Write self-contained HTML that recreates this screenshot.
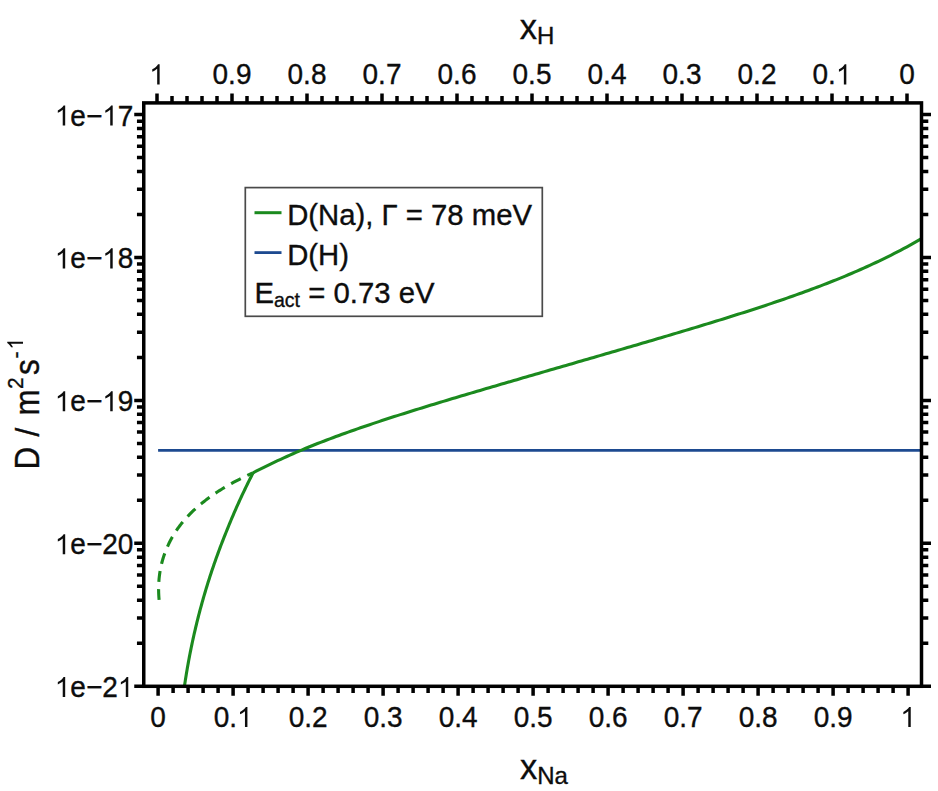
<!DOCTYPE html>
<html><head><meta charset="utf-8"><style>
html,body{margin:0;padding:0;background:#fff;}
body{width:938px;height:791px;overflow:hidden;position:relative;}
svg{position:absolute;left:0;top:0;}
text{font-family:"Liberation Sans",sans-serif;fill:#0d0d0d;font-kerning:none;stroke:#0d0d0d;stroke-width:0.35px;}
.g1 path{stroke:#0d0d0d;stroke-width:0.35px;}
</style></head><body>
<svg width="938" height="791" viewBox="0 0 938 791">
<defs><clipPath id="c"><rect x="143.75" y="102.9" width="777.75" height="583.4"/></clipPath></defs>
<g clip-path="url(#c)" fill="none" stroke-linejoin="round">
<path d="M158.1 450.4H921.5" stroke="#1d4a90" stroke-width="2.8"/>
<path d="M183.91 690.00 L184.17 688.17 L184.43 686.35 L184.70 684.52 L184.97 682.70 L185.25 680.87 L185.54 679.05 L185.83 677.22 L186.12 675.40 L186.42 673.57 L186.72 671.75 L187.03 669.92 L187.35 668.10 L187.67 666.27 L187.99 664.45 L188.32 662.62 L188.65 660.80 L188.99 658.97 L189.34 657.15 L189.69 655.32 L190.04 653.50 L190.40 651.67 L190.77 649.85 L191.14 648.02 L191.51 646.19 L191.90 644.37 L192.28 642.54 L192.67 640.72 L193.07 638.89 L193.47 637.07 L193.88 635.24 L194.29 633.42 L194.71 631.59 L195.14 629.77 L195.57 627.94 L196.00 626.12 L196.44 624.29 L196.89 622.47 L197.34 620.64 L197.79 618.82 L198.26 616.99 L198.72 615.17 L199.20 613.34 L199.68 611.52 L200.16 609.69 L200.65 607.87 L201.15 606.04 L201.65 604.22 L202.15 602.39 L202.67 600.56 L203.19 598.74 L203.71 596.91 L204.24 595.09 L204.78 593.26 L205.32 591.44 L205.86 589.61 L206.42 587.79 L206.98 585.96 L207.54 584.14 L208.11 582.31 L208.69 580.49 L209.27 578.66 L209.86 576.84 L210.45 575.01 L211.05 573.19 L211.66 571.36 L212.27 569.54 L212.89 567.71 L213.51 565.89 L214.14 564.06 L214.78 562.24 L215.42 560.41 L216.07 558.58 L216.72 556.76 L217.38 554.93 L218.05 553.11 L218.72 551.28 L219.40 549.46 L220.08 547.63 L220.77 545.81 L221.47 543.98 L222.18 542.16 L222.89 540.33 L223.60 538.51 L224.32 536.68 L225.05 534.86 L225.79 533.03 L226.51 531.21 L227.24 529.38 L227.98 527.56 L228.72 525.73 L229.47 523.91 L230.22 522.08 L230.99 520.26 L231.75 518.43 L232.53 516.61 L233.31 514.78 L234.10 512.95 L234.89 511.13 L235.69 509.30 L236.50 507.48 L237.31 505.65 L238.13 503.83 L238.96 502.00 L239.79 500.18 L240.63 498.35 L241.48 496.53 L242.33 494.70 L243.19 492.88 L244.06 491.05 L244.93 489.23 L245.81 487.40 L246.70 485.58 L247.59 483.75 L248.49 481.93 L249.40 480.10 L250.32 478.28 L251.24 476.45 L252.17 474.63 L253.10 472.80" stroke="#1b8a1e" stroke-width="3.1"/>
<path d="M253.10 472.80 L256.17 471.21 L259.24 469.65 L262.30 468.11 L265.37 466.59 L268.44 465.09 L271.51 463.61 L274.58 462.15 L277.64 460.71 L280.71 459.29 L283.78 457.88 L286.85 456.50 L289.92 455.13 L292.98 453.78 L296.05 452.44 L299.12 451.13 L302.19 449.82 L305.26 448.53 L308.32 447.26 L311.39 446.00 L314.46 444.76 L317.53 443.55 L320.60 442.36 L323.66 441.18 L326.73 440.00 L329.80 438.84 L332.87 437.70 L335.94 436.56 L339.01 435.43 L342.07 434.32 L345.14 433.21 L348.21 432.11 L351.28 431.02 L354.35 429.94 L357.41 428.87 L360.48 427.81 L363.55 426.76 L366.62 425.71 L369.69 424.67 L372.75 423.64 L375.82 422.61 L378.89 421.60 L381.96 420.58 L385.03 419.58 L388.09 418.58 L391.16 417.58 L394.23 416.60 L397.30 415.61 L400.37 414.63 L403.43 413.66 L406.50 412.69 L409.57 411.73 L412.64 410.77 L415.71 409.81 L418.77 408.86 L421.84 407.91 L424.91 406.96 L427.98 406.02 L431.05 405.08 L434.11 404.15 L437.18 403.22 L440.25 402.29 L443.32 401.36 L446.39 400.44 L449.45 399.51 L452.52 398.59 L455.59 397.68 L458.66 396.76 L461.73 395.85 L464.79 394.94 L467.86 394.03 L470.93 393.12 L474.00 392.21 L477.07 391.31 L480.13 390.40 L483.20 389.50 L486.27 388.60 L489.34 387.70 L492.41 386.80 L495.47 385.91 L498.54 385.01 L501.61 384.11 L504.68 383.22 L507.75 382.32 L510.82 381.43 L513.88 380.54 L516.95 379.64 L520.02 378.75 L523.09 377.86 L526.16 376.97 L529.22 376.08 L532.29 375.19 L535.36 374.30 L538.43 373.41 L541.50 372.52 L544.56 371.63 L547.63 370.74 L550.70 369.86 L553.77 368.97 L556.84 368.08 L559.90 367.19 L562.97 366.30 L566.04 365.41 L569.11 364.53 L572.18 363.64 L575.24 362.75 L578.31 361.86 L581.38 360.97 L584.45 360.08 L587.52 359.19 L590.58 358.30 L593.65 357.41 L596.72 356.52 L599.79 355.63 L602.86 354.74 L605.92 353.85 L608.99 352.96 L612.06 352.06 L615.13 351.17 L618.20 350.28 L621.26 349.38 L624.33 348.49 L627.40 347.59 L630.47 346.70 L633.54 345.80 L636.60 344.90 L639.67 344.00 L642.74 343.10 L645.81 342.20 L648.88 341.30 L651.94 340.40 L655.01 339.50 L658.08 338.59 L661.15 337.68 L664.22 336.78 L667.28 335.87 L670.35 334.96 L673.42 334.05 L676.49 333.13 L679.56 332.22 L682.63 331.30 L685.69 330.38 L688.76 329.46 L691.83 328.53 L694.90 327.61 L697.97 326.68 L701.03 325.75 L704.10 324.82 L707.17 323.88 L710.24 322.94 L713.31 322.00 L716.37 321.06 L719.44 320.11 L722.51 319.16 L725.58 318.20 L728.65 317.25 L731.71 316.29 L734.78 315.32 L737.85 314.35 L740.92 313.38 L743.99 312.40 L747.05 311.41 L750.12 310.43 L753.19 309.43 L756.26 308.43 L759.33 307.43 L762.39 306.42 L765.46 305.41 L768.53 304.39 L771.60 303.36 L774.67 302.32 L777.73 301.28 L780.80 300.23 L783.87 299.18 L786.94 298.12 L790.01 297.05 L793.07 295.97 L796.14 294.88 L799.21 293.78 L802.28 292.68 L805.35 291.56 L808.41 290.44 L811.48 289.30 L814.55 288.16 L817.62 287.01 L820.69 285.84 L823.75 284.66 L826.82 283.47 L829.89 282.27 L832.96 281.06 L836.03 279.83 L839.09 278.59 L842.16 277.34 L845.23 276.07 L848.30 274.79 L851.37 273.49 L854.44 272.18 L857.50 270.85 L860.57 269.50 L863.64 268.14 L866.71 266.76 L869.78 265.37 L872.84 263.95 L875.91 262.52 L878.98 261.06 L882.05 259.59 L885.12 258.10 L888.18 256.58 L891.25 255.05 L894.32 253.49 L897.39 251.91 L900.46 250.31 L903.52 248.68 L906.59 247.02 L909.66 245.35 L912.73 243.64 L915.80 241.91 L918.86 240.16 L921.93 238.37 L925.00 236.56" stroke="#1b8a1e" stroke-width="3.1"/>
<path d="M159.12 599.81 L158.96 598.04 L158.84 596.28 L158.74 594.52 L158.67 592.76 L158.63 591.01 L158.61 589.26 L158.62 587.51 L158.66 585.77 L158.72 584.03 L158.81 582.30 L158.93 580.57 L159.07 578.84 L159.25 577.13 L159.45 575.42 L159.68 573.71 L159.93 572.02 L160.21 570.33 L160.52 568.65 L160.86 566.97 L161.22 565.31 L161.62 563.65 L162.04 562.00 L162.48 560.36 L162.96 558.74 L163.46 557.12 L163.99 555.51 L164.54 553.91 L165.12 552.32 L165.73 550.74 L166.36 549.18 L167.02 547.62 L167.71 546.08 L168.42 544.55 L169.15 543.02 L169.91 541.52 L170.69 540.02 L171.50 538.53 L172.33 537.06 L173.19 535.60 L174.06 534.15 L174.97 532.72 L175.89 531.30 L176.84 529.89 L177.81 528.49 L178.80 527.11 L179.81 525.75 L180.85 524.40 L181.90 523.06 L182.98 521.73 L184.08 520.43 L185.20 519.13 L186.34 517.85 L187.50 516.59 L188.68 515.34 L189.87 514.10 L191.08 512.88 L192.32 511.67 L193.56 510.48 L194.83 509.30 L196.11 508.13 L197.40 506.98 L198.71 505.84 L200.04 504.71 L201.38 503.60 L202.73 502.51 L204.09 501.42 L205.47 500.35 L206.86 499.29 L208.26 498.25 L209.67 497.22 L211.09 496.20 L212.52 495.20 L213.96 494.21 L215.41 493.23 L216.87 492.26 L218.34 491.31 L219.81 490.37 L221.29 489.45 L222.78 488.53 L224.27 487.63 L225.77 486.74 L227.27 485.86 L228.78 485.00 L230.29 484.15 L231.81 483.31 L233.32 482.48 L234.84 481.66 L236.37 480.86 L237.89 480.07 L239.41 479.29 L240.94 478.52 L242.46 477.77 L243.99 477.02 L245.51 476.29 L247.03 475.57 L248.55 474.86 L250.07 474.16 L251.58 473.47 L253.10 472.80" stroke="#1b8a1e" stroke-width="3.1" stroke-dasharray="10.9 7.32" stroke-dashoffset="0.2"/>
</g>
<path d="M158.10 686.30V695.80M907.00 102.90V93.40M173.10 686.30V693.10M892.00 102.90V96.10M188.10 686.30V693.10M877.00 102.90V96.10M203.10 686.30V693.10M862.00 102.90V96.10M218.10 686.30V693.10M847.00 102.90V96.10M233.10 686.30V695.80M832.00 102.90V93.40M248.10 686.30V693.10M817.00 102.90V96.10M263.10 686.30V693.10M802.00 102.90V96.10M278.10 686.30V693.10M787.00 102.90V96.10M293.10 686.30V693.10M772.00 102.90V96.10M308.10 686.30V695.80M757.00 102.90V93.40M323.10 686.30V693.10M742.00 102.90V96.10M338.10 686.30V693.10M727.00 102.90V96.10M353.10 686.30V693.10M712.00 102.90V96.10M368.10 686.30V693.10M697.00 102.90V96.10M383.10 686.30V695.80M682.00 102.90V93.40M398.10 686.30V693.10M667.00 102.90V96.10M413.10 686.30V693.10M652.00 102.90V96.10M428.10 686.30V693.10M637.00 102.90V96.10M443.10 686.30V693.10M622.00 102.90V96.10M458.10 686.30V695.80M607.00 102.90V93.40M473.10 686.30V693.10M592.00 102.90V96.10M488.10 686.30V693.10M577.00 102.90V96.10M503.10 686.30V693.10M562.00 102.90V96.10M518.10 686.30V693.10M547.00 102.90V96.10M533.10 686.30V695.80M532.00 102.90V93.40M548.10 686.30V693.10M517.00 102.90V96.10M563.10 686.30V693.10M502.00 102.90V96.10M578.10 686.30V693.10M487.00 102.90V96.10M593.10 686.30V693.10M472.00 102.90V96.10M608.10 686.30V695.80M457.00 102.90V93.40M623.10 686.30V693.10M442.00 102.90V96.10M638.10 686.30V693.10M427.00 102.90V96.10M653.10 686.30V693.10M412.00 102.90V96.10M668.10 686.30V693.10M397.00 102.90V96.10M683.10 686.30V695.80M382.00 102.90V93.40M698.10 686.30V693.10M367.00 102.90V96.10M713.10 686.30V693.10M352.00 102.90V96.10M728.10 686.30V693.10M337.00 102.90V96.10M743.10 686.30V693.10M322.00 102.90V96.10M758.10 686.30V695.80M307.00 102.90V93.40M773.10 686.30V693.10M292.00 102.90V96.10M788.10 686.30V693.10M277.00 102.90V96.10M803.10 686.30V693.10M262.00 102.90V96.10M818.10 686.30V693.10M247.00 102.90V96.10M833.10 686.30V695.80M232.00 102.90V93.40M848.10 686.30V693.10M217.00 102.90V96.10M863.10 686.30V693.10M202.00 102.90V96.10M878.10 686.30V693.10M187.00 102.90V96.10M893.10 686.30V693.10M172.00 102.90V96.10M908.10 686.30V695.80M157.00 102.90V93.40M143.75 686.20H134.25M921.50 686.20H931.00M143.75 643.18H136.95M921.50 643.18H928.30M143.75 618.02H136.95M921.50 618.02H928.30M143.75 600.17H136.95M921.50 600.17H928.30M143.75 586.32H136.95M921.50 586.32H928.30M143.75 575.00H136.95M921.50 575.00H928.30M143.75 565.44H136.95M921.50 565.44H928.30M143.75 557.15H136.95M921.50 557.15H928.30M143.75 549.84H136.95M921.50 549.84H928.30M143.75 543.30H134.25M921.50 543.30H931.00M143.75 500.28H136.95M921.50 500.28H928.30M143.75 475.12H136.95M921.50 475.12H928.30M143.75 457.27H136.95M921.50 457.27H928.30M143.75 443.42H136.95M921.50 443.42H928.30M143.75 432.10H136.95M921.50 432.10H928.30M143.75 422.54H136.95M921.50 422.54H928.30M143.75 414.25H136.95M921.50 414.25H928.30M143.75 406.94H136.95M921.50 406.94H928.30M143.75 400.40H134.25M921.50 400.40H931.00M143.75 357.38H136.95M921.50 357.38H928.30M143.75 332.22H136.95M921.50 332.22H928.30M143.75 314.37H136.95M921.50 314.37H928.30M143.75 300.52H136.95M921.50 300.52H928.30M143.75 289.20H136.95M921.50 289.20H928.30M143.75 279.64H136.95M921.50 279.64H928.30M143.75 271.35H136.95M921.50 271.35H928.30M143.75 264.04H136.95M921.50 264.04H928.30M143.75 257.50H134.25M921.50 257.50H931.00M143.75 214.48H136.95M921.50 214.48H928.30M143.75 189.32H136.95M921.50 189.32H928.30M143.75 171.47H136.95M921.50 171.47H928.30M143.75 157.62H136.95M921.50 157.62H928.30M143.75 146.30H136.95M921.50 146.30H928.30M143.75 136.74H136.95M921.50 136.74H928.30M143.75 128.45H136.95M921.50 128.45H928.30M143.75 121.14H136.95M921.50 121.14H928.30M143.75 114.60H134.25M921.50 114.60H931.00" stroke="#000" stroke-width="3.5" fill="none"/>
<rect x="143.75" y="102.9" width="777.75" height="583.4" fill="none" stroke="#000" stroke-width="3.5"/>
<g fill="#0d0d0d" class="g1">
<g transform="translate(150.31 727.00) scale(1.0 1.04)" ><text x="0" y="0" font-size="28">0</text></g>
<g transform="translate(899.21 84.40) scale(1.0 1.04)" ><text x="0" y="0" font-size="28">0</text></g>
<g transform="translate(213.64 727.00) scale(1.0 1.04)" ><text x="0" y="0" font-size="28">0. </text><path transform="translate(23.35 0) scale(0.01367 -0.01314)" d="M763 0H583V1147Q518 1085 412 1023Q307 961 223 930V1104Q374 1175 487 1276Q601 1377 648 1466H763Z"/></g>
<g transform="translate(812.54 84.40) scale(1.0 1.04)" ><text x="0" y="0" font-size="28">0. </text><path transform="translate(23.35 0) scale(0.01367 -0.01314)" d="M763 0H583V1147Q518 1085 412 1023Q307 961 223 930V1104Q374 1175 487 1276Q601 1377 648 1466H763Z"/></g>
<g transform="translate(288.64 727.00) scale(1.0 1.04)" ><text x="0" y="0" font-size="28">0.2</text></g>
<g transform="translate(737.54 84.40) scale(1.0 1.04)" ><text x="0" y="0" font-size="28">0.2</text></g>
<g transform="translate(363.64 727.00) scale(1.0 1.04)" ><text x="0" y="0" font-size="28">0.3</text></g>
<g transform="translate(662.54 84.40) scale(1.0 1.04)" ><text x="0" y="0" font-size="28">0.3</text></g>
<g transform="translate(438.64 727.00) scale(1.0 1.04)" ><text x="0" y="0" font-size="28">0.4</text></g>
<g transform="translate(587.54 84.40) scale(1.0 1.04)" ><text x="0" y="0" font-size="28">0.4</text></g>
<g transform="translate(513.64 727.00) scale(1.0 1.04)" ><text x="0" y="0" font-size="28">0.5</text></g>
<g transform="translate(512.54 84.40) scale(1.0 1.04)" ><text x="0" y="0" font-size="28">0.5</text></g>
<g transform="translate(588.64 727.00) scale(1.0 1.04)" ><text x="0" y="0" font-size="28">0.6</text></g>
<g transform="translate(437.54 84.40) scale(1.0 1.04)" ><text x="0" y="0" font-size="28">0.6</text></g>
<g transform="translate(663.64 727.00) scale(1.0 1.04)" ><text x="0" y="0" font-size="28">0.7</text></g>
<g transform="translate(362.54 84.40) scale(1.0 1.04)" ><text x="0" y="0" font-size="28">0.7</text></g>
<g transform="translate(738.64 727.00) scale(1.0 1.04)" ><text x="0" y="0" font-size="28">0.8</text></g>
<g transform="translate(287.54 84.40) scale(1.0 1.04)" ><text x="0" y="0" font-size="28">0.8</text></g>
<g transform="translate(813.64 727.00) scale(1.0 1.04)" ><text x="0" y="0" font-size="28">0.9</text></g>
<g transform="translate(212.54 84.40) scale(1.0 1.04)" ><text x="0" y="0" font-size="28">0.9</text></g>
<g transform="translate(900.31 727.00) scale(1.0 1.04)" ><text x="0" y="0" font-size="28"> </text><path transform="translate(0.00 0) scale(0.01367 -0.01314)" d="M763 0H583V1147Q518 1085 412 1023Q307 961 223 930V1104Q374 1175 487 1276Q601 1377 648 1466H763Z"/></g>
<g transform="translate(149.21 84.40) scale(1.0 1.04)" ><text x="0" y="0" font-size="28"> </text><path transform="translate(0.00 0) scale(0.01367 -0.01314)" d="M763 0H583V1147Q518 1085 412 1023Q307 961 223 930V1104Q374 1175 487 1276Q601 1377 648 1466H763Z"/></g>
<g transform="translate(54.76 697.10) scale(1.0 1.04)" ><text x="0" y="0" font-size="28"> e−2 </text><path transform="translate(0.00 0) scale(0.01367 -0.01314)" d="M763 0H583V1147Q518 1085 412 1023Q307 961 223 930V1104Q374 1175 487 1276Q601 1377 648 1466H763Z"/><path transform="translate(63.07 0) scale(0.01367 -0.01314)" d="M763 0H583V1147Q518 1085 412 1023Q307 961 223 930V1104Q374 1175 487 1276Q601 1377 648 1466H763Z"/></g>
<g transform="translate(54.76 554.20) scale(1.0 1.04)" ><text x="0" y="0" font-size="28"> e−20</text><path transform="translate(0.00 0) scale(0.01367 -0.01314)" d="M763 0H583V1147Q518 1085 412 1023Q307 961 223 930V1104Q374 1175 487 1276Q601 1377 648 1466H763Z"/></g>
<g transform="translate(54.76 411.30) scale(1.0 1.04)" ><text x="0" y="0" font-size="28"> e− 9</text><path transform="translate(0.00 0) scale(0.01367 -0.01314)" d="M763 0H583V1147Q518 1085 412 1023Q307 961 223 930V1104Q374 1175 487 1276Q601 1377 648 1466H763Z"/><path transform="translate(47.50 0) scale(0.01367 -0.01314)" d="M763 0H583V1147Q518 1085 412 1023Q307 961 223 930V1104Q374 1175 487 1276Q601 1377 648 1466H763Z"/></g>
<g transform="translate(54.76 268.40) scale(1.0 1.04)" ><text x="0" y="0" font-size="28"> e− 8</text><path transform="translate(0.00 0) scale(0.01367 -0.01314)" d="M763 0H583V1147Q518 1085 412 1023Q307 961 223 930V1104Q374 1175 487 1276Q601 1377 648 1466H763Z"/><path transform="translate(47.50 0) scale(0.01367 -0.01314)" d="M763 0H583V1147Q518 1085 412 1023Q307 961 223 930V1104Q374 1175 487 1276Q601 1377 648 1466H763Z"/></g>
<g transform="translate(54.76 125.50) scale(1.0 1.04)" ><text x="0" y="0" font-size="28"> e− 7</text><path transform="translate(0.00 0) scale(0.01367 -0.01314)" d="M763 0H583V1147Q518 1085 412 1023Q307 961 223 930V1104Q374 1175 487 1276Q601 1377 648 1466H763Z"/><path transform="translate(47.50 0) scale(0.01367 -0.01314)" d="M763 0H583V1147Q518 1085 412 1023Q307 961 223 930V1104Q374 1175 487 1276Q601 1377 648 1466H763Z"/></g>
</g>
<rect x="245.3" y="187.6" width="297" height="128.7" fill="#fff" stroke="#4a4a4a" stroke-width="1.7"/>
<path d="M254.5 212.7H281.5" stroke="#1b8a1e" stroke-width="3"/>
<path d="M254.5 252.6H281.5" stroke="#1d4a90" stroke-width="2.8"/>
<g font-size="29.3">
<text transform="translate(287.2 224.7) scale(1 1.02)">D(Na), Γ = 78 meV</text>
<text transform="translate(287.2 264.9) scale(1 1.02)">D(H)</text>
<text transform="translate(254.4 303.3) scale(1 1.02)">E<tspan font-size="19.5" dy="4">act</tspan></text>
<text transform="translate(308.3 303.3) scale(1 1.02)">=</text>
<text transform="translate(333.5 303.3) scale(1 1.02)">0.73 eV</text>
</g>
<text x="519.8" y="38.8" font-size="34.5">x<tspan font-size="24" dy="5.1">H</tspan></text>
<text x="520" y="778.8" font-size="34.5">x<tspan font-size="24" dy="5.2">Na</tspan></text>
<g fill="#0d0d0d" class="g1">
<g transform="translate(38.60 469.40) rotate(-90) scale(0.95 1.06)"><g transform="translate(0.00 0.00) scale(1.0 1.0)" ><text x="0" y="0" font-size="33">D</text></g></g>
<g transform="translate(38.60 436.50) rotate(-90) scale(0.95 1.03)"><g transform="translate(0.00 0.00) scale(1.0 1.0)" ><text x="0" y="0" font-size="33">/</text></g></g>
<g transform="translate(38.60 415.40) rotate(-90) scale(0.95 1.04)"><g transform="translate(0.00 0.00) scale(1.0 1.0)" ><text x="0" y="0" font-size="33">m</text></g></g>
<g transform="translate(22.60 389.00) rotate(-90) scale(0.95 1.04)"><g transform="translate(0.00 0.00) scale(1.0 1.0)" ><text x="0" y="0" font-size="22">2</text></g></g>
<g transform="translate(38.60 375.00) rotate(-90) scale(0.95 1.04)"><g transform="translate(0.00 0.00) scale(1.0 1.0)" ><text x="0" y="0" font-size="33">s</text></g></g>
<g transform="translate(23.00 358.50) rotate(-90) scale(0.95 1.04)"><g transform="translate(0.00 0.00) scale(1.0 1.0)" ><text x="0" y="0" font-size="22">-</text></g></g>
<g transform="translate(23.00 349.60) rotate(-90) scale(0.95 1.04)"><g transform="translate(0.00 0.00) scale(1.0 1.0)" ><text x="0" y="0" font-size="22"> </text><path transform="translate(0.00 0) scale(0.01074 -0.01032)" d="M763 0H583V1147Q518 1085 412 1023Q307 961 223 930V1104Q374 1175 487 1276Q601 1377 648 1466H763Z"/></g></g>
</g>
</svg>
</body></html>
